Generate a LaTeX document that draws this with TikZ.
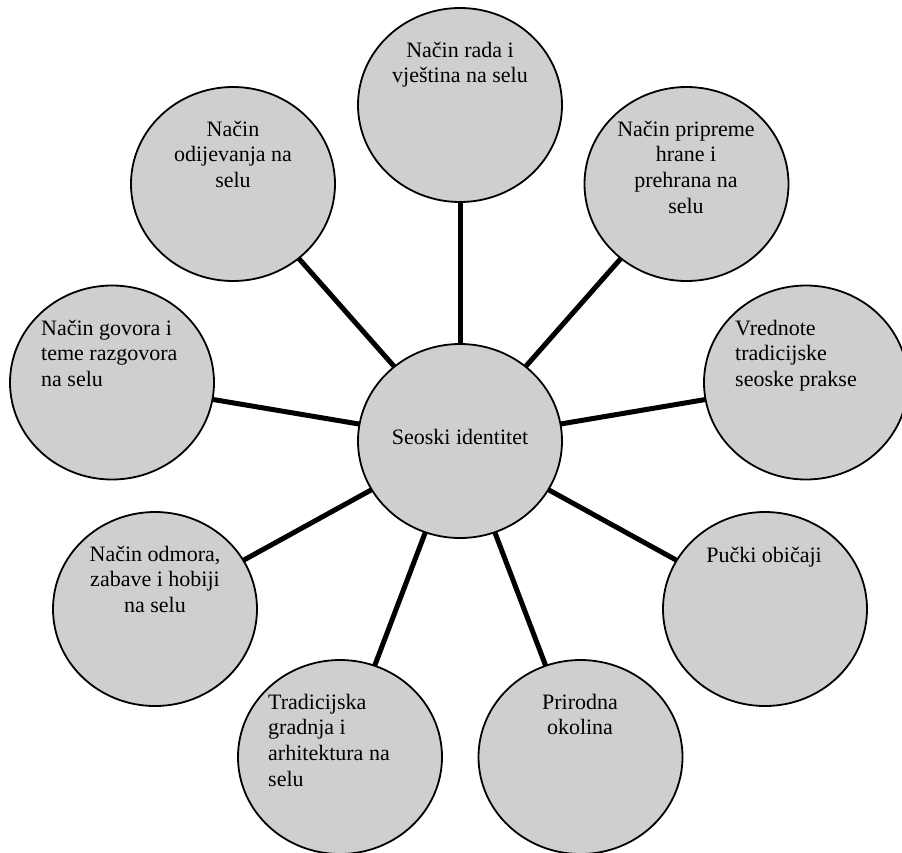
\documentclass[tikz,border=0pt]{standalone}
\usepackage{fontspec}
\newfontfamily\timesx{Liberation Serif}
\usetikzlibrary{shapes.geometric}
\definecolor{bubblegray}{RGB}{207,207,207}
\begin{document}
\begin{tikzpicture}[x=1pt,y=-1pt,
  bubble/.style={ellipse, draw=black, line width=1.8pt, fill=bubblegray,
    minimum width=204pt, minimum height=194pt, inner sep=0pt, outer sep=0pt},
  link/.style={line width=5pt},
  lbl/.style={inner sep=0pt, font=\timesx\fontsize{22}{25.7}\selectfont}
]
\useasboundingbox (0,0) rectangle (902,852);
% circles
\node[bubble] (c)  at (460,441) {};
\node[bubble] (n1) at (460,105) {};
\node[bubble] (n2) at (686.5,184) {};
\node[bubble] (n3) at (806,382.5) {};
\node[bubble] (n4) at (765,609) {};
\node[bubble] (n5) at (580.5,757) {};
\node[bubble] (n6) at (340,757) {};
\node[bubble] (n7) at (155,609) {};
\node[bubble] (n8) at (112,382.5) {};
\node[bubble] (n9) at (233,184) {};
% connectors
\foreach \n in {n1,n2,n3,n4,n5,n6,n7,n8,n9}
  \draw[link] (c) -- (\n);
% texts
\node[lbl, anchor=north] (tc) at (460,426) {\strut Seoski identitet};
\node[lbl, anchor=north, align=center] (t1) at (460,39) {\strut Način rada i\\vještina na selu};
\node[lbl, anchor=north, align=center] (t2) at (686,118) {\strut Način pripreme\\hrane i\\prehrana na\\selu};
\node[lbl, anchor=north west, align=left] (t3) at (735,317) {\strut Vrednote\\tradicijske\\seoske prakse};
\node[lbl, anchor=north] (t4) at (764,544) {\strut Pučki običaji};
\node[lbl, anchor=north, align=center] (t5) at (580,691) {\strut Prirodna\\okolina};
\node[lbl, anchor=north west, align=left] (t6) at (268,691) {\strut Tradicijska\\gradnja i\\arhitektura na\\selu};
\node[lbl, anchor=north, align=center] (t7) at (155,543) {\strut Način odmora,\\zabave i hobiji\\na selu};
\node[lbl, anchor=north west, align=left] (t8) at (41,317) {\strut Način govora i\\teme razgovora\\na selu};
\node[lbl, anchor=north, align=center] (t9) at (233,118) {\strut Način\\odijevanja na\\selu};
\end{tikzpicture}
\end{document}
